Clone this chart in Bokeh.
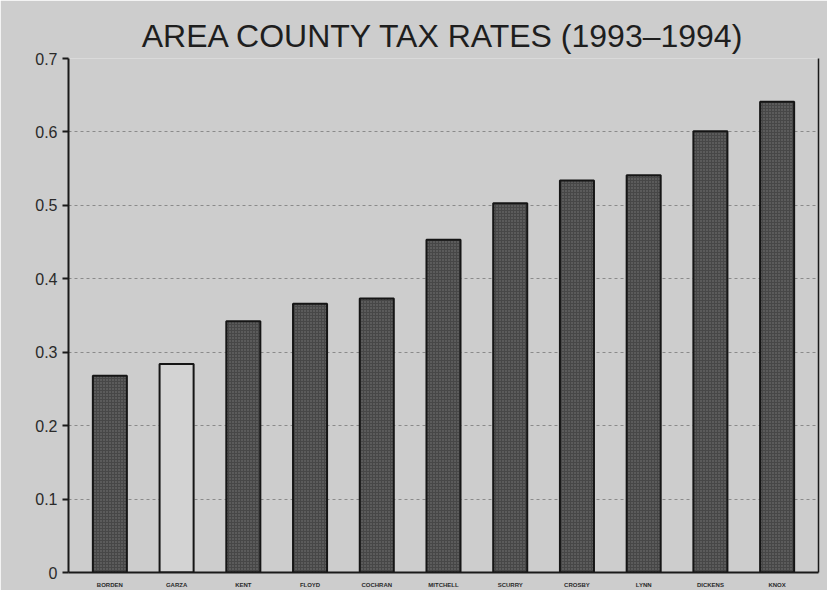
from bokeh.plotting import figure
from bokeh.models import ColumnDataSource, FactorRange, LinearAxis, FixedTicker, Range1d
from bokeh.embed import file_html
from bokeh.resources import INLINE

counties = ["BORDEN", "GARZA", "KENT", "FLOYD", "COCHRAN", "MITCHELL",
            "SCURRY", "CROSBY", "LYNN", "DICKENS", "KNOX"]
rates = [0.268, 0.284, 0.342, 0.366, 0.373, 0.453, 0.503, 0.534, 0.541, 0.601, 0.641]
highlight = "GARZA"
y_ticks = [0, 0.1, 0.2, 0.3, 0.4, 0.5, 0.6, 0.7]

fills = ["#d3d3d3" if c == highlight else "#474747" for c in counties]
hatches = [" " if c == highlight else "." for c in counties]
src = ColumnDataSource(dict(county=counties, rate=rates, fill=fills, hatch=hatches))

BG = "#cdcdcd"
p = figure(x_range=FactorRange(*counties, range_padding=0.12, range_padding_units="absolute"),
           y_range=Range1d(0, 0.7),
           width=827, height=590, output_backend="svg", toolbar_location=None,
           title="AREA COUNTY TAX RATES (1993\u20131994)",
           min_border_left=68, min_border_right=9, min_border_top=58, min_border_bottom=12)
p.background_fill_color = BG
p.border_fill_color = BG
p.outline_line_color = None

p.title.align = "center"
p.title.text_font = "Liberation Sans"
p.title.text_font_size = "32px"
p.title.text_font_style = "normal"
p.title.text_color = "#1e1e1e"
p.title.offset = 0
p.title.standoff = 10

p.vbar(x="county", top="rate", width=0.51, source=src, fill_color="fill",
       line_color="#151515", line_width=2, hatch_pattern="hatch",
       hatch_color="#8c8c8c", hatch_scale=3, hatch_alpha=0.7)

p.yaxis.ticker = FixedTicker(ticks=y_ticks)
p.yaxis.major_label_overrides = {0: "0"}
p.yaxis.major_label_text_font = "Liberation Sans"
p.yaxis.major_label_text_font_size = "16px"
p.yaxis.major_label_text_color = "#2a2a2a"
p.yaxis.axis_line_color = "#1a1a1a"
p.yaxis.axis_line_width = 2
p.yaxis.major_tick_line_color = "#1a1a1a"
p.yaxis.major_tick_line_width = 2
p.yaxis.major_tick_out = 6
p.yaxis.major_tick_in = 0
p.yaxis.minor_tick_line_color = None

p.xaxis.major_label_text_font = "Liberation Sans"
p.xaxis.major_label_text_font_size = "6px"
p.xaxis.major_label_text_font_style = "bold"
p.xaxis.major_label_text_color = "#2a2a2a"
p.xaxis.axis_line_color = "#1a1a1a"
p.xaxis.axis_line_width = 2
p.xaxis.major_tick_line_color = None
p.xaxis.major_label_standoff = 3

right = LinearAxis(ticker=FixedTicker(ticks=[]), axis_line_color="#1a1a1a",
                   axis_line_width=1.5, major_label_text_font_size="0px",
                   minor_tick_line_color=None, major_tick_line_color=None)
p.add_layout(right, "right")

p.xgrid.grid_line_color = None
p.ygrid.grid_line_color = "#8a8a8a"
p.ygrid.grid_line_dash = "3 3"
p.ygrid.grid_line_width = 1

open("out.html", "w").write(file_html(p, INLINE))
